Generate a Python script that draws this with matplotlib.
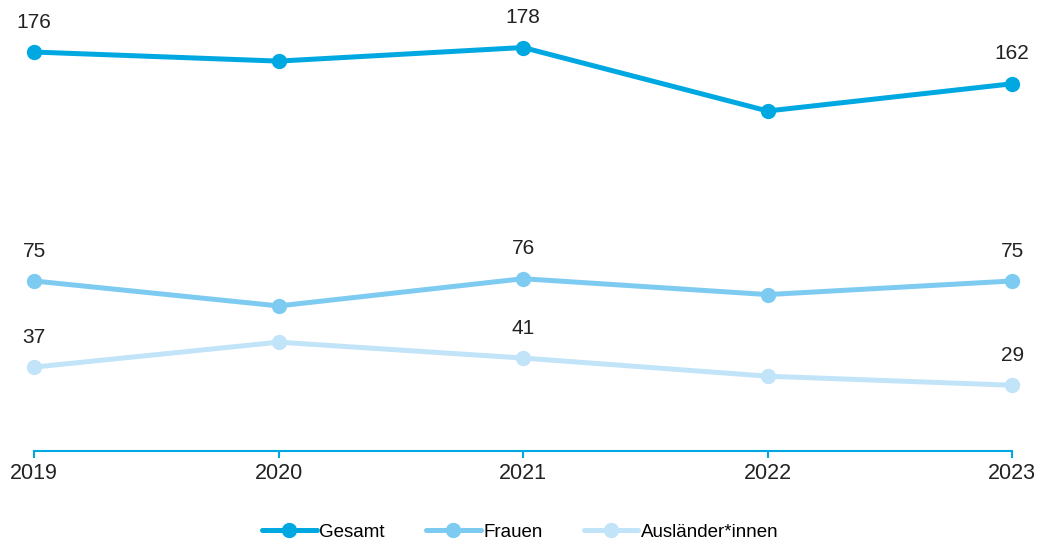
import matplotlib.pyplot as plt

years = [2019, 2020, 2021, 2022, 2023]
gesamt = [176, 172, 178, 150, 162]
frauen = [75, 64, 76, 69, 75]
auslaender = [37, 48, 41, 33, 29]

# which points carry a value label
labeled = [0, 2, 4]

plt.rcParams['font.family'] = ['Liberation Sans', 'DejaVu Sans']

fig = plt.figure(figsize=(10.41, 5.44), dpi=100)
ax = fig.add_axes([0.0327, 0.171, 0.9396, 0.80])

series = [
    ('Gesamt', gesamt, '#00a8e2'),
    ('Frauen', frauen, '#7ecbf1'),
    ('Ausländer*innen', auslaender, '#c2e4f9'),
]

for name, vals, col in series:
    ax.plot(years, vals, color=col, lw=3.6, marker='o', ms=10,
            solid_capstyle='round', label=name, clip_on=False)
    for i in labeled:
        ax.annotate(str(vals[i]), (years[i], vals[i]), xytext=(0, 21.5),
                    textcoords='offset points', ha='center', va='center',
                    fontsize=15, color='#222222')

ax.set_xlim(2019, 2023)
ax.set_ylim(0, 192)
ax.set_xticks(years)
ax.set_xticklabels([str(y) for y in years], fontsize=15.5, color='#222222')
ax.set_yticks([])
for s in ['top', 'right', 'left']:
    ax.spines[s].set_visible(False)
ax.spines['bottom'].set_color('#00a8e2')
ax.spines['bottom'].set_linewidth(1.5)
ax.tick_params(axis='x', colors='#00a8e2', length=5, width=1.5, pad=4,
               labelcolor='#222222')

fig.legend(loc='center', bbox_to_anchor=(0.5, 0.022), ncol=3, frameon=False,
           fontsize=13.5, handlelength=2.9, handletextpad=0.15, columnspacing=2.2)

fig.savefig('out.png', dpi=100)
